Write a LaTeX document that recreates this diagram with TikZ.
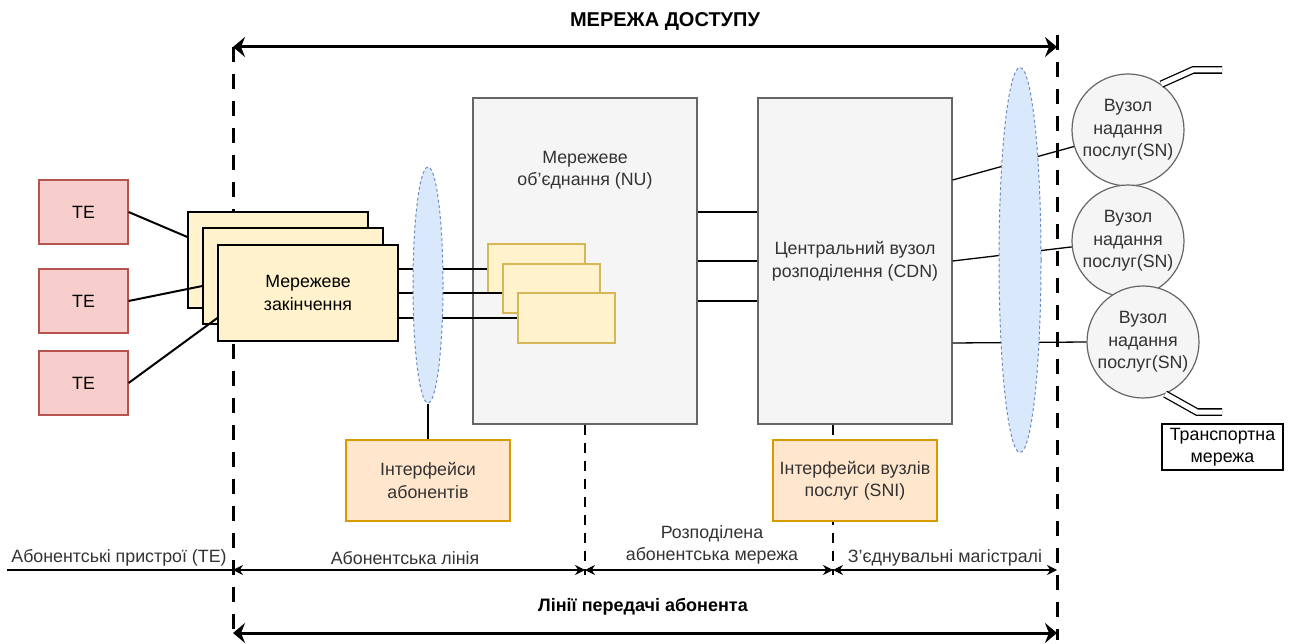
\documentclass[tikz,border=0pt]{standalone}
\usepackage{fontspec}
\setmainfont{Liberation Sans}
\usetikzlibrary{arrows.meta,shapes.geometric}
\definecolor{tefill}{HTML}{F8CECC}
\definecolor{teline}{HTML}{B85450}
\definecolor{ntfill}{HTML}{FFF2CC}
\definecolor{subline}{HTML}{D6B656}
\definecolor{greyfill}{HTML}{F5F5F5}
\definecolor{greyline}{HTML}{666666}
\definecolor{greytext}{HTML}{333333}
\definecolor{iffill}{HTML}{FFE6CC}
\definecolor{ifline}{HTML}{D79B00}
\definecolor{busfill}{HTML}{DAE8FC}
\definecolor{busline}{HTML}{6C8EBF}
\tikzset{
  base/.style={font=\fontsize{17.8}{22.5}\selectfont, align=center, inner sep=0pt},
  tebox/.style={base, draw=teline, fill=tefill, line width=1.2pt, minimum width=89pt, minimum height=64pt},
  ntbox/.style={base, draw=black, fill=ntfill, line width=1.3pt, minimum width=180pt, minimum height=96pt},
  subbox/.style={draw=subline, fill=ntfill, line width=1.2pt, minimum width=97pt, minimum height=49pt},
  greybox/.style={base, draw=greyline, fill=greyfill, line width=1.2pt, text=greytext},
  ifbox/.style={base, draw=ifline, fill=iffill, line width=1.2pt, text=greytext, minimum width=164pt, minimum height=81pt},
  bus/.style={ellipse, draw=busline, fill=busfill, line width=1pt, dash pattern=on 3pt off 2.5pt, inner sep=0pt},
  snnode/.style={base, circle, draw=greyline, fill=greyfill, line width=1.2pt, text=greytext, minimum size=112pt},
  telink/.style={line width=2pt},
  wire/.style={line width=1.3pt},
  trunk/.style={line width=1.3pt, double distance=5pt},
  border/.style={line width=3pt, dash pattern=on 15pt off 12pt},
  split/.style={line width=2pt, dash pattern=on 10pt off 8pt},
  span/.style={line width=1.2pt, {Stealth[length=10pt,width=10pt]}-{Stealth[length=10pt,width=10pt]}},
  widespan/.style={line width=3pt, {Stealth[length=12pt,width=20pt,inset=4pt]}-{Stealth[length=12pt,width=20pt,inset=4pt]}},
  caption/.style={base, text=greytext},
  heading/.style={font=\fontsize{20}{24}\selectfont\bfseries, inner sep=0pt}
}

\begin{document}

\begin{tikzpicture}[x=1pt,y=-1pt]
\useasboundingbox (0,0) rectangle (1291,644);

% boundary markers of the access network
\coordinate (bl) at (233,47);
\coordinate (br) at (1057,47);
\coordinate (blb) at (233,640);
\coordinate (brt) at (1057,35);
\coordinate (brb) at (1057,640);
\draw[border] (bl) -- (blb);
\draw[border] (brt) -- (brb);

% title and top span
\node[heading] (title) at (665,22) {МЕРЕЖА ДОСТУПУ};
\draw[widespan] (bl) -- (br);

% terminal equipment
\node[tebox] (te1) at (83.5,212) {TE};
\node[tebox] (te2) at (83.5,301) {TE};
\node[tebox] (te3) at (83.5,383) {TE};

% network termination stack
\node[ntbox] (nt1) at (278,260) {};
\node[ntbox] (nt2) at (293,276) {};
\node[ntbox] (nt3) at (308,293) {Мережеве\\закінчення};

% network unit
\node[greybox, minimum width=224pt, minimum height=326pt] (nu) at (585,261) {};
\node[caption] (nulabel) at (585,170) {Мережеве\\об'єднання (NU)};
\node[subbox] (nua) at (536.5,268.5) {};
\node[subbox] (nub) at (551.5,288.5) {};
\node[subbox, minimum height=50pt] (nuc) at (566.5,318) {};

% central distribution node
\node[greybox, minimum width=194pt, minimum height=326pt] (cdn) at (855,261) {Центральний вузол\\розподілення (CDN)};

% service nodes
\node[snnode] (sn1) at (1128,130) {Вузол\\надання\\послуг(SN)};
\node[snnode] (sn2) at (1128,241) {Вузол\\надання\\послуг(SN)};
\node[snnode] (sn3) at (1143,342) {Вузол\\надання\\послуг(SN)};

% links from terminals
\draw[telink] (te1.east) -- (nt1.west |- 0,237);
\draw[telink] (te2.east) -- (nt2.west |- 0,286);
\draw[telink] (te3.east) -- (nt3.west |- 0,318);

% subscriber lines into the network unit
\draw[wire] (nt3.east |- 0,269) -- (nua.west |- 0,269);
\draw[wire] (nt3.east |- 0,293) -- (nub.west |- 0,293);
\draw[wire] (nt3.east |- 0,318) -- (nuc.west |- 0,318);

% network unit to central node
\draw[wire] (nu.east |- 0,212) -- (cdn.west |- 0,212);
\draw[wire] (nu.east |- 0,261) -- (cdn.west |- 0,261);
\draw[wire] (nu.east |- 0,301) -- (cdn.west |- 0,301);

% central node to service nodes
\draw[wire] (cdn.east |- 0,180) -- (sn1.197);
\draw[wire] (cdn.east |- 0,261) -- (sn2.186);
\draw[wire] (cdn.east |- 0,343) -- (sn3.west);

% interface buses
\node[bus, minimum width=30pt, minimum height=236pt] (bus1) at (428,285) {};
\node[bus, minimum width=42pt, minimum height=385pt] (bus2) at (1020,260) {};

% transport network links
\coordinate (tn1) at (1193,70);
\coordinate (tn1e) at (1222,70);
\coordinate (tn2) at (1197,412);
\coordinate (tn2e) at (1222,412);
\draw[trunk] (sn1.54) -- (tn1) -- (tn1e);
\draw[trunk] (sn3.-67) -- (tn2) -- (tn2e);
\node[base, draw=black, fill=white, line width=1.2pt, minimum width=121pt, minimum height=46pt] (tn) at (1222.5,447) {Транспортна\\мережа};

% section splits
\coordinate (s1) at (585,575);
\coordinate (s2) at (833,575);
\draw[split] (nu.south) -- (s1);
\draw[split] (cdn.south -| s2) -- (s2);

% interfaces
\coordinate (unitop) at (428,440);
\draw[wire] (bus1.south) -- (unitop);
\node[ifbox] (uni) at (428,480.5) {Інтерфейси\\абонентів};
\node[ifbox] (sni) at (855,480.5) {Інтерфейси вузлів\\послуг (SNI)};

% bottom spans
\coordinate (a0) at (7,570);
\coordinate (a1) at (233,570);
\coordinate (a2) at (585,570);
\coordinate (a3) at (833,570);
\coordinate (a4) at (1057,570);
\draw[wire, line width=1.2pt] (a0) -- (a1);
\draw[span] (a1) -- (a2);
\draw[span] (a2) -- (a3);
\draw[span] (a3) -- (a4);
\node[caption] (lte) at (119,558) {Абонентські пристрої (TE)};
\node[caption] (lline) at (405,558) {Абонентська лінія};
\node[caption] (ldist) at (712,545) {Розподілена\\абонентська мережа};
\node[caption] (ltrunk) at (945,558) {З'єднувальні магістралі};

\coordinate (b1) at (233,633);
\coordinate (b2) at (1057,633);
\node[heading, font=\fontsize{18}{22}\selectfont\bfseries] (lsub) at (643,607) {Лінії передачі абонента};
\draw[widespan] (b1) -- (b2);
\end{tikzpicture}

\end{document}
